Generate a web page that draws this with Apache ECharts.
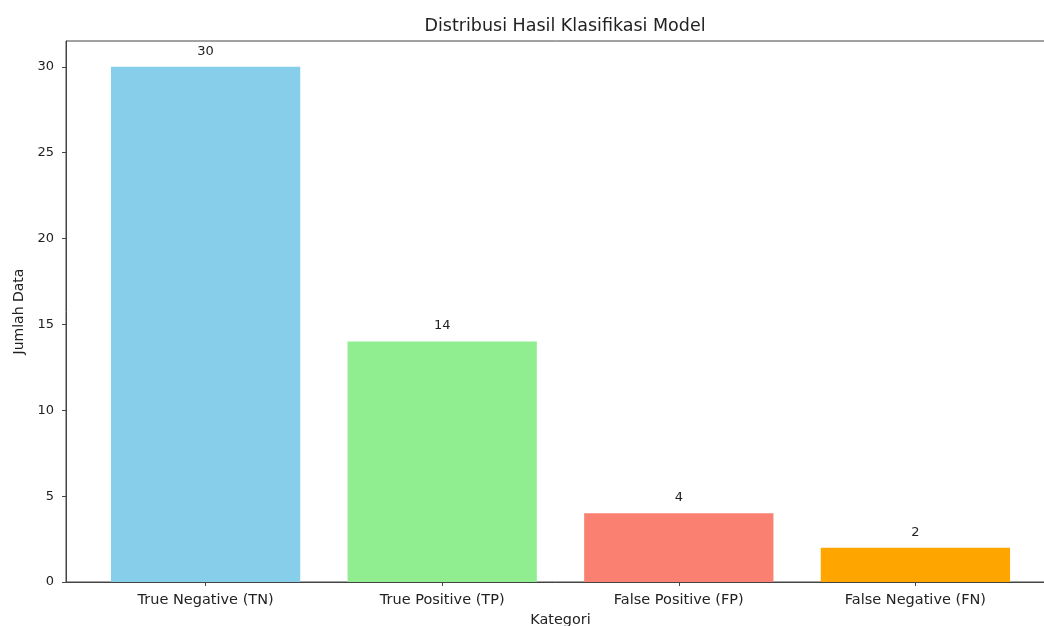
<!DOCTYPE html>
<html>
<head>
<meta charset="utf-8">
<script src="https://cdn.jsdelivr.net/npm/echarts@6/dist/echarts.min.js"></script>
<style>
    html, body { margin: 0; padding: 0; background: #fff; }
    #chart-main { width: 1044px; height: 626px; }
</style>
</head>
<body>
<div id="chart-main"></div>
<script>
    var categories = ['True Negative (TN)', 'True Positive (TP)', 'False Positive (FP)', 'False Negative (FN)'];
    var counts = [30, 14, 4, 2];
    var barColors = ['#87CEEB', '#90EE90', '#FA8072', '#FFA500'];
    var yTicks = [0, 5, 10, 15, 20, 25, 30];
    var xTicks = [0, 1, 2, 3];

    var font = 'DejaVu Sans';

    var barData = categories.map(function (name, i) {
        return {
            name: name,
            value: [i, counts[i]],
            itemStyle: {color: barColors[i]}
        };
    });

    var option = {
        backgroundColor: '#fff',
        animation: false,
        title: {
            text: 'Distribusi Hasil Klasifikasi Model',
            left: 560,
            textAlign: 'center',
            top: 12,
            textStyle: {fontFamily: font, fontSize: 17.5, fontWeight: 'normal', color: '#222'}
        },
        grid: {
            left: 66,
            width: 989,
            top: 41,
            bottom: 44,
            outerBoundsMode: 'none',
            containLabel: false,
            show: true,
            borderColor: '#444',
            borderWidth: 1,
            backgroundColor: 'transparent'
        },
        xAxis: {
            type: 'value',
            min: -0.59,
            max: 3.59,
            name: 'Kategori',
            nameLocation: 'middle',
            nameGap: 30,
            nameTextStyle: {fontFamily: font, fontSize: 14.4, color: '#222'},
            axisLine: {show: true, onZero: false, lineStyle: {color: '#444', width: 1}},
            axisTick: {show: true, customValues: xTicks, length: 4, lineStyle: {color: '#444'}},
            axisLabel: {
                customValues: xTicks,
                margin: 11,
                fontFamily: font,
                fontSize: 14.5,
                color: '#222',
                formatter: function (v) { return categories[Math.round(v)]; }
            },
            splitLine: {show: false}
        },
        yAxis: {
            type: 'value',
            min: 0,
            max: 31.5,
            name: 'Jumlah Data',
            nameLocation: 'middle',
            nameGap: 40,
            nameTextStyle: {fontFamily: font, fontSize: 14, color: '#222'},
            axisLine: {show: true, onZero: false, lineStyle: {color: '#444', width: 1}},
            axisTick: {show: true, customValues: yTicks, length: 4, lineStyle: {color: '#444'}},
            axisLabel: {
                customValues: yTicks,
                margin: 12,
                fontFamily: font,
                fontSize: 13,
                color: '#222'
            },
            splitLine: {show: false}
        },
        series: [
            {
                type: 'bar',
                barWidth: '80%',
                data: barData,
                label: {
                    show: true,
                    position: 'top',
                    distance: 9,
                    fontFamily: font,
                    fontSize: 13,
                    color: '#222',
                    formatter: function (p) { return p.value[1]; }
                }
            }
        ]
    };

    var myChart = echarts.init(document.getElementById('chart-main'));
    myChart.setOption(option);
</script>
</body>
</html>
